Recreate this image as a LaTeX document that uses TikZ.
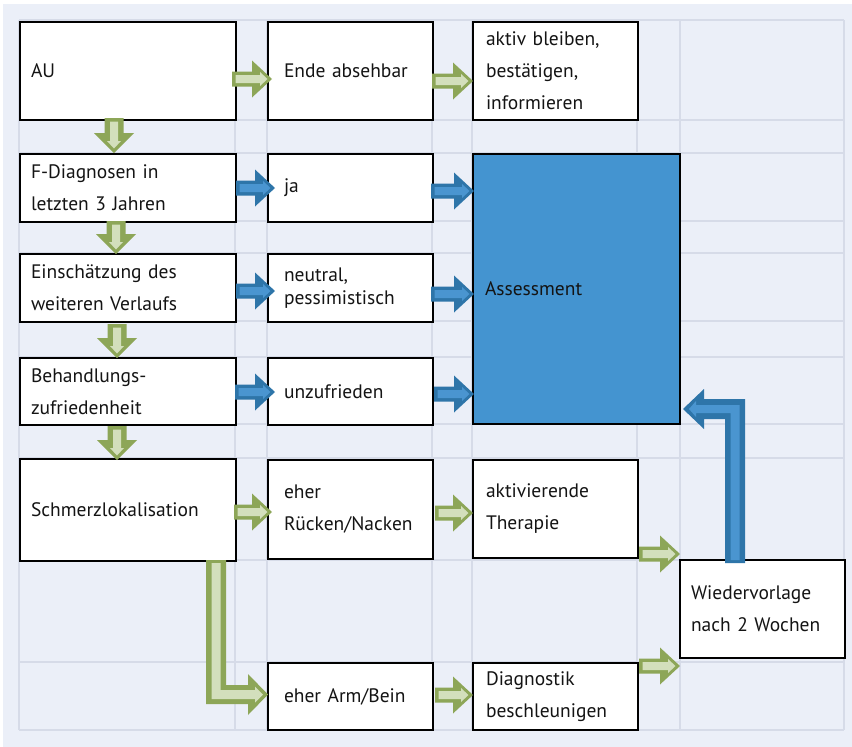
\documentclass[tikz,border=0pt]{standalone}
\usepackage{fontspec}
\setmainfont{PT Sans}
\usetikzlibrary{calc}
\definecolor{bgc}{HTML}{EBEFF8}
\definecolor{gridc}{HTML}{D6DBE8}
\definecolor{txt}{HTML}{141414}
\definecolor{assessc}{HTML}{4494D0}
\definecolor{bdark}{HTML}{2E75A9}
\definecolor{blight}{HTML}{4A95D0}
\definecolor{gdark}{HTML}{8DA658}
\definecolor{glight}{HTML}{D3DFBC}
\tikzset{
  gridline/.style={draw=gridc, line width=1.5pt},
  box/.style={draw=black, line width=2pt, fill=white, anchor=north west, align=left,
    inner ysep=0pt, text=txt, font=\fontsize{19.5}{32}\selectfont},
}
% right block arrow: #1 colour prefix, #2 start, #3 tip (y of start used)
\newcommand{\rarr}[3]{%
  \fill[#1dark] let \p1=#2, \p2=#3 in (\x1,\y1+7.5pt) -- (\x2-20pt,\y1+7.5pt) -- (\x2-20pt,\y1+18.5pt) -- (\x2,\y1) -- (\x2-20pt,\y1-18.5pt) -- (\x2-20pt,\y1-7.5pt) -- (\x1,\y1-7.5pt) -- cycle;
  \fill[#1light] let \p1=#2, \p2=#3 in (\x1+3.5pt,\y1+4pt) -- (\x2-12pt,\y1+4pt) -- (\x2-12pt,\y1+7pt) -- (\x2-4.5pt,\y1) -- (\x2-12pt,\y1-7pt) -- (\x2-12pt,\y1-4pt) -- (\x1+3.5pt,\y1-4pt) -- cycle;
}
% down block arrow
\newcommand{\darr}[3]{%
  \fill[#1dark] let \p1=#2, \p2=#3 in (\x1-9.5pt,\y1) -- (\x1-9.5pt,\y2+20pt) -- (\x1-20pt,\y2+20pt) -- (\x1,\y2) -- (\x1+20pt,\y2+20pt) -- (\x1+9.5pt,\y2+20pt) -- (\x1+9.5pt,\y1) -- cycle;
  \fill[#1light] let \p1=#2, \p2=#3 in (\x1-4pt,\y1-3.5pt) -- (\x1-4pt,\y2+12pt) -- (\x1-7pt,\y2+12pt) -- (\x1,\y2+4.5pt) -- (\x1+7pt,\y2+12pt) -- (\x1+4pt,\y2+12pt) -- (\x1+4pt,\y1-3.5pt) -- cycle;
}
\begin{document}
\begin{tikzpicture}[x=1pt,y=-1pt]
\useasboundingbox (0,0) rectangle (852,747);
\fill[bgc] (3,4) rectangle (852,747);
\foreach \x in {19,235,267,432,472,637,680,844} \draw[gridline] (\x,20) -- (\x,730);
\foreach \y in {20,120,153,221,253,321,357,424,458,560,662,730} \draw[gridline] (19,\y) -- (844,\y);

% column 1
\node[box, minimum width=216pt, minimum height=98pt, text width=194pt, inner xsep=11pt] (au) at (19,21) {AU};
\node[box, minimum width=216pt, minimum height=68pt, text width=194pt, inner xsep=11pt] (fdiag) at (19,153) {F-Diagnosen in\\letzten 3 Jahren};
\node[box, minimum width=216pt, minimum height=68pt, text width=194pt, inner xsep=11pt] (einsch) at (19,253) {Einschätzung des\\weiteren Verlaufs};
\node[box, minimum width=216pt, minimum height=67pt, text width=194pt, inner xsep=11pt] (behandl) at (19,357) {Behandlungs-\\zufriedenheit};
\node[box, minimum width=216pt, minimum height=102pt, text width=194pt, inner xsep=11pt] (schmerz) at (19,458) {Schmerzlokalisation};
% column 3
\node[box, minimum width=165pt, minimum height=98pt, text width=133pt, inner xsep=16pt] (ende) at (267,21) {Ende absehbar};
\node[box, minimum width=165pt, minimum height=68pt, text width=133pt, inner xsep=16pt] (ja) at (267,153) {ja};
\node[box, minimum width=165pt, minimum height=68pt, text width=133pt, inner xsep=16pt, font=\fontsize{19.5}{23}\selectfont] (neutral) at (267,253) {neutral,\\pessimistisch};
\node[box, minimum width=165pt, minimum height=67pt, text width=133pt, inner xsep=16pt] (unzuf) at (267,357) {unzufrieden};
\node[box, minimum width=165pt, minimum height=99pt, text width=133pt, inner xsep=16pt] (ruecken) at (267,459) {eher\\Rücken/Nacken};
\node[box, minimum width=165pt, minimum height=67pt, text width=133pt, inner xsep=16pt] (armbein) at (267,662) {eher Arm/Bein};
% column 5
\node[box, minimum width=165pt, minimum height=98pt, text width=139pt, inner xsep=13pt] (aktiv) at (472,21) {aktiv bleiben,\\bestätigen,\\informieren};
\node[box, fill=assessc, minimum width=207pt, minimum height=270pt, text width=183pt, inner xsep=12pt] (assess) at (472,153) {Assessment};
\node[box, minimum width=165pt, minimum height=98pt, text width=139pt, inner xsep=13pt] (aktivier) at (472,459) {aktivierende\\Therapie};
\node[box, minimum width=165pt, minimum height=67pt, text width=139pt, inner xsep=13pt] (diag) at (472,662) {Diagnostik\\beschleunigen};
% column 7
\node[box, minimum width=165pt, minimum height=98pt, text width=143pt, inner xsep=11pt] (wieder) at (679,559) {Wiedervorlage\\nach 2 Wochen};

% green down arrows
\darr{g}{($(au.south)+(-14,-3)$)}{($(fdiag.north)+(-14,0)$)}
\darr{g}{($(fdiag.south)+(-12,-2)$)}{($(einsch.north)+(-12,1)$)}
\darr{g}{($(einsch.south)+(-11,1)$)}{($(behandl.north)+(-11,1)$)}
\darr{g}{($(behandl.south)+(-11,0)$)}{($(schmerz.north)+(-11,2)$)}
% green right arrows
\rarr{g}{($(au.east)+(-5,8)$)}{($(ende.west)+(5,8)$)}
\rarr{g}{($(ende.east)+(-2,10)$)}{($(aktiv.west)+(1,10)$)}
\rarr{g}{($(schmerz.east)+(-3,2)$)}{($(ruecken.west)+(5,2)$)}
\rarr{g}{($(ruecken.east)+(1,3.5)$)}{($(aktivier.west)+(1,3.5)$)}
\rarr{g}{($(aktivier.south east)+(0,-5)$)}{($(wieder.west |- aktivier.south east)+(1,-5)$)}
\rarr{g}{($(armbein.east)+(1,-1.5)$)}{($(diag.west)+(1,-1.5)$)}
\rarr{g}{($(diag.north east)+(0,4)$)}{($(wieder.west |- diag.north east)+(1,4)$)}
% blue right arrows
\rarr{b}{($(fdiag.east)+(-1,0)$)}{($(ja.west)+(8,0)$)}
\rarr{b}{($(ja.east)+(-3,3)$)}{($(assess.west |- ja.east)+(2,3)$)}
\rarr{b}{($(einsch.east)+(-1,3)$)}{($(neutral.west)+(8,3)$)}
\rarr{b}{($(neutral.east)+(-3,6)$)}{($(assess.west |- neutral.east)+(2,6)$)}
\rarr{b}{($(behandl.east)+(-2,0.5)$)}{($(unzuf.west)+(8,0.5)$)}
\rarr{b}{($(unzuf.east)+(0,2.5)$)}{($(assess.west |- unzuf.east)+(2,2.5)$)}

% green L arrow: Schmerzlokalisation -> eher Arm/Bein
\fill[gdark] let \p1=($(schmerz.south west)+(197,-2)$), \p2=($(armbein.west)+(1,-2)$) in
  (\x1-10pt,\y1) -- (\x1+10pt,\y1) -- (\x1+10pt,\y2+9.5pt) -- (\x2-20pt,\y2+9.5pt) -- (\x2-20pt,\y2+20.5pt) -- (\x2,\y2) -- (\x2-20pt,\y2-20.5pt) -- (\x2-20pt,\y2-9.5pt) -- (\x1-10pt,\y2-9.5pt) -- cycle;
\fill[glight] let \p1=($(schmerz.south west)+(197,-2)$), \p2=($(armbein.west)+(1,-2)$) in
  (\x1-4.5pt,\y1-3pt) -- (\x1+4.5pt,\y1-3pt) -- (\x1+4.5pt,\y2+4.5pt) -- (\x2-13pt,\y2+4.5pt) -- (\x2-13pt,\y2+8pt) -- (\x2-5pt,\y2) -- (\x2-13pt,\y2-8pt) -- (\x2-13pt,\y2-4.5pt) -- (\x1-4.5pt,\y2-4.5pt) -- cycle;
% blue L arrow: Wiedervorlage -> Assessment
\fill[bdark] let \p1=($(wieder.north west)+(56,4)$), \p2=($(assess.south east)+(2,-16)$) in
  (\x1-10pt,\y1) -- (\x1+10pt,\y1) -- (\x1+10pt,\y2+10pt) -- (\x2+21pt,\y2+10pt) -- (\x2+21pt,\y2+20pt) -- (\x2,\y2) -- (\x2+21pt,\y2-20pt) -- (\x2+21pt,\y2-10pt) -- (\x1-10pt,\y2-10pt) -- cycle;
\fill[blight] let \p1=($(wieder.north west)+(56,4)$), \p2=($(assess.south east)+(2,-16)$) in
  (\x1-4.5pt,\y1+3pt) -- (\x1+4.5pt,\y1+3pt) -- (\x1+4.5pt,\y2+4pt) -- (\x2+13pt,\y2+4pt) -- (\x2+13pt,\y2+8pt) -- (\x2+6pt,\y2) -- (\x2+13pt,\y2-8pt) -- (\x2+13pt,\y2-4pt) -- (\x1-4.5pt,\y2-4pt) -- cycle;
\end{tikzpicture}
\end{document}
